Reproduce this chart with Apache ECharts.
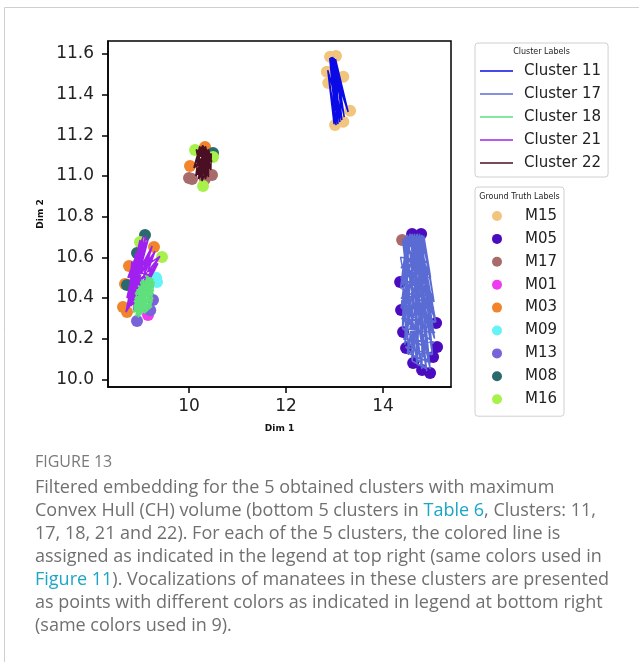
<!DOCTYPE html>
<html>
<head>
<meta charset="utf-8">
<script src="https://cdn.jsdelivr.net/npm/echarts@6/dist/echarts.min.js"></script>
<style>
  html, body { margin: 0; padding: 0; background: #fff; }
  #chart { width: 639px; height: 662px; }
</style>
</head>
<body>
<div id="chart"></div>
<script>
// axis ticks
const xTicks = [10, 12, 14];
const yTicks = [10.0, 10.2, 10.4, 10.6, 10.8, 11.0, 11.2, 11.4, 11.6];

// cluster lines (paths through the embedding points)
const clusterNames = ["Cluster 11", "Cluster 17", "Cluster 18", "Cluster 21", "Cluster 22"];
const clusterColors = ["#0a0ae6", "#5a6cd4", "#5fe07c", "#a020f0", "#4a0f22"];
// drawing order: green hull sits on top of the purple one
const clusterZ = [3, 3, 5, 4, 3];

const cluster11 = [
  [12.90, 11.58], [13.07, 11.255], [12.96, 11.585], [12.99, 11.255], [13.02, 11.575], [13.20, 11.29],
  [12.93, 11.585], [13.11, 11.265], [12.99, 11.58], [13.00, 11.27], [12.86, 11.52], [13.03, 11.25],
  [13.06, 11.50], [13.15, 11.275], [12.90, 11.58], [13.28, 11.315], [12.96, 11.585], [13.00, 11.27],
  [13.02, 11.575], [13.07, 11.255], [12.93, 11.585], [13.20, 11.29], [12.99, 11.58], [12.99, 11.255],
  [12.86, 11.52], [13.15, 11.275], [13.06, 11.50], [13.03, 11.25], [12.90, 11.58], [13.11, 11.265],
  [12.96, 11.585], [13.28, 11.315], [13.02, 11.575], [13.00, 11.27], [12.99, 11.58], [13.07, 11.255]
];
const cluster17 = [
  [14.40, 10.69], [14.90, 10.04], [14.55, 10.715], [14.40, 10.25], [14.70, 10.715], [15.09, 10.28],
  [14.45, 10.70], [14.60, 10.09], [14.84, 10.705], [14.36, 10.45], [14.60, 10.715], [15.02, 10.12],
  [14.75, 10.715], [14.45, 10.17], [14.50, 10.71], [15.05, 10.38], [14.80, 10.71], [14.70, 10.07],
  [14.65, 10.715], [14.97, 10.05], [14.40, 10.69], [15.06, 10.20], [14.70, 10.715], [14.37, 10.35],
  [14.55, 10.715], [14.98, 10.50], [14.84, 10.705], [14.80, 10.05], [14.45, 10.70], [14.52, 10.12],
  [14.75, 10.715], [15.09, 10.28], [14.60, 10.715], [14.90, 10.04], [14.50, 10.71], [14.36, 10.45],
  [14.80, 10.71], [15.02, 10.12], [14.65, 10.715], [14.45, 10.17], [14.84, 10.705], [15.05, 10.38],
  [14.40, 10.69], [14.70, 10.07], [14.70, 10.715], [14.97, 10.05], [14.55, 10.715], [15.06, 10.20],
  [14.75, 10.715], [14.40, 10.25], [14.45, 10.70], [14.98, 10.50], [14.60, 10.715], [14.60, 10.09],
  [14.80, 10.71], [14.80, 10.05],
  [14.36, 10.60], [14.90, 10.58], [14.36, 10.50], [15.00, 10.42], [14.37, 10.40], [15.08, 10.28],
  [14.38, 10.30], [15.05, 10.18], [14.42, 10.20], [14.98, 10.08], [14.50, 10.13], [14.86, 10.65],
  [14.37, 10.55], [14.95, 10.50], [14.36, 10.45], [15.05, 10.35], [14.38, 10.35], [15.07, 10.23],
  [14.40, 10.25], [15.01, 10.12], [14.46, 10.16], [14.90, 10.05], [14.60, 10.09], [14.92, 10.55]
];
const cluster18 = [
  [8.85, 10.33], [9.22, 10.50], [8.95, 10.305], [9.27, 10.44], [8.90, 10.31], [9.14, 10.51],
  [9.00, 10.315], [9.28, 10.48], [8.87, 10.38], [9.26, 10.40], [9.10, 10.33], [9.22, 10.50],
  [8.89, 10.42], [9.28, 10.48], [8.85, 10.33], [9.05, 10.47], [8.95, 10.305], [9.14, 10.51],
  [9.20, 10.35], [9.28, 10.48], [8.90, 10.31], [9.27, 10.44], [9.00, 10.315], [8.96, 10.44],
  [8.87, 10.38], [9.22, 10.50], [9.10, 10.33], [9.24, 10.36], [8.85, 10.33], [9.26, 10.40],
  [8.95, 10.305], [9.05, 10.47], [8.89, 10.42], [9.27, 10.44], [8.90, 10.31], [9.28, 10.48],
  [9.20, 10.35], [9.14, 10.51], [9.00, 10.315], [9.22, 10.50],
  [8.86, 10.36], [9.10, 10.325], [8.88, 10.40], [9.20, 10.35], [8.90, 10.43], [9.25, 10.38],
  [8.95, 10.46], [9.27, 10.42], [9.02, 10.49], [9.28, 10.46], [9.10, 10.51], [9.26, 10.49],
  [8.86, 10.35], [9.23, 10.37], [8.92, 10.44], [9.27, 10.45], [9.00, 10.48], [9.15, 10.34]
];
const cluster21 = [
  [8.70, 10.33], [9.11, 10.705], [8.86, 10.34], [9.30, 10.63], [8.75, 10.35], [8.99, 10.685],
  [8.72, 10.40], [9.40, 10.605], [8.80, 10.36], [9.16, 10.69], [8.78, 10.45], [9.30, 10.54],
  [8.74, 10.50], [9.05, 10.70], [8.70, 10.33], [9.24, 10.655], [8.86, 10.34], [9.36, 10.57],
  [8.75, 10.35], [8.90, 10.62], [8.80, 10.36], [9.11, 10.705], [8.72, 10.40], [9.30, 10.63],
  [8.78, 10.45], [8.99, 10.685], [8.70, 10.33], [9.40, 10.605], [8.74, 10.50], [9.16, 10.69],
  [8.75, 10.35], [8.82, 10.58], [8.86, 10.34], [9.05, 10.70], [8.80, 10.36], [9.30, 10.54],
  [8.72, 10.40], [9.24, 10.655], [8.78, 10.45], [9.36, 10.57]
];
const cluster22 = [
  [10.15, 11.13], [10.34, 10.985], [10.28, 11.15], [10.10, 11.04], [10.40, 11.13], [10.20, 10.985],
  [10.22, 11.145], [10.45, 11.03], [10.34, 11.145], [10.14, 11.00], [10.46, 11.11], [10.27, 10.975],
  [10.15, 11.13], [10.47, 11.07], [10.28, 11.15], [10.40, 10.995], [10.40, 11.13], [10.10, 11.04],
  [10.22, 11.145], [10.34, 10.985], [10.34, 11.145], [10.20, 10.985], [10.46, 11.11], [10.45, 11.03],
  [10.15, 11.13], [10.27, 10.975], [10.28, 11.15], [10.47, 11.07], [10.40, 11.13], [10.14, 11.00],
  [10.22, 11.145], [10.40, 10.995], [10.34, 11.145], [10.34, 10.985], [10.46, 11.11], [10.10, 11.04],
  [10.28, 11.15], [10.27, 10.975], [10.15, 11.13], [10.45, 11.03]
];
const clusterPaths = [cluster11, cluster17, cluster18, cluster21, cluster22];

// ground truth points
const labelNames = ["M15", "M05", "M17", "M01", "M03", "M09", "M13", "M08", "M16"];
const labelColors = ["#f2c57e", "#4b0cbf", "#a86b6b", "#f03af0", "#f0852d", "#66f3f5", "#7a62d8", "#2b6a6c", "#a8f04a"];

const m15 = [[12.907, 11.587], [13.03, 11.59], [12.84, 11.513], [13.18, 11.488], [12.87, 11.457],
  [13.32, 11.321], [13.01, 11.251], [13.18, 11.267]];
const m05 = [[14.598, 10.715], [14.784, 10.715], [14.351, 10.479], [14.371, 10.341], [14.412, 10.233],
  [14.474, 10.154], [14.619, 10.08], [14.804, 10.046], [14.969, 10.031], [15.031, 10.11],
  [15.113, 10.159], [15.093, 10.277]];
const m17 = [[14.392, 10.685], [10.062, 10.985], [10.474, 11.005], [10.0, 10.99], [10.33, 10.985]];
const m01 = [[9.155, 10.316]];
const m03 = [[10.33, 11.143], [10.02, 11.049], [9.278, 10.651], [8.763, 10.557], [8.68, 10.469],
  [8.639, 10.356], [8.722, 10.331]];
const m09 = [[9.34, 10.479], [9.32, 10.5]];
const m13 = [[8.928, 10.287], [9.258, 10.39], [9.2, 10.34]];
const m08 = [[10.495, 11.113], [9.093, 10.71], [8.928, 10.621], [8.722, 10.464]];
const m16 = [[10.124, 11.128], [10.289, 10.951], [10.495, 11.093], [8.99, 10.675], [9.443, 10.601]];
const labelPoints = [m15, m05, m17, m01, m03, m09, m13, m08, m16];

// caption
const captionHead = "FIGURE 13";
const captionLines = [
  "Filtered embedding for the 5 obtained clusters with maximum",
  "Convex Hull (CH) volume (bottom 5 clusters in {l|Table 6}, Clusters: 11,",
  "17, 18, 21 and 22). For each of the 5 clusters, the colored line is",
  "assigned as indicated in the legend at top right (same colors used in",
  "{l|Figure 11}). Vocalizations of manatees in these clusters are presented",
  "as points with different colors as indicated in legend at bottom right",
  "(same colors used in 9)."
];

const font = "DejaVu Sans";
const capFont = "Open Sans";
const chart = echarts.init(document.getElementById("chart"));

let series = [];
labelNames.forEach((n, i) => {
  series.push({
    name: n,
    type: "scatter",
    data: labelPoints[i],
    symbolSize: 12,
    itemStyle: { color: labelColors[i], opacity: 1 },
    z: 2
  });
});
clusterNames.forEach((n, i) => {
  series.push({
    name: n,
    type: "line",
    data: clusterPaths[i],
    symbol: "none",
    lineStyle: { color: clusterColors[i], width: 1.5 },
    itemStyle: { color: clusterColors[i] },
    z: clusterZ[i]
  });
});

let graphics = [
  {
    type: "rect",
    shape: { x: 4.5, y: 7.5, width: 700, height: 700 },
    style: { fill: null, stroke: "#cfcfcf", lineWidth: 1 },
    z: 0
  },
  {
    type: "text",
    style: { text: "Cluster Labels", x: 541.5, y: 52, align: "center", verticalAlign: "middle",
      fontSize: 8, fill: "#222", fontFamily: font },
    z: 100
  },
  {
    type: "text",
    style: { text: "Ground Truth Labels", x: 519.5, y: 197, align: "center", verticalAlign: "middle",
      fontSize: 8, fill: "#222", fontFamily: font },
    z: 100
  },
  {
    type: "text",
    style: { text: captionHead, x: 35, y: 462, verticalAlign: "middle",
      fontSize: 16, fill: "#7a7a7a", fontFamily: capFont },
    z: 100
  }
];
captionLines.forEach((t, i) => {
  graphics.push({
    type: "text",
    style: {
      text: t, x: 35, y: 488 + i * 23, verticalAlign: "middle",
      fontSize: 18, fill: "#707070", fontFamily: capFont,
      rich: { l: { fontSize: 18, fill: "#1ba6c6", fontFamily: capFont } }
    },
    z: 100
  });
});

const option = {
  animation: false,
  backgroundColor: "#fff",
  grid: {
    left: 108, top: 41, width: 343, height: 346,
    show: true, borderColor: "#000", borderWidth: 1.5, backgroundColor: "#fff"
  },
  xAxis: {
    type: "value",
    min: 8.33, max: 15.4,
    name: "Dim 1", nameLocation: "middle", nameGap: 37,
    nameTextStyle: { fontSize: 9, fontWeight: "bold", color: "#111", fontFamily: font },
    axisLine: { onZero: false, lineStyle: { color: "#000", width: 1.5 } },
    axisTick: { customValues: xTicks, length: 6, lineStyle: { color: "#000", width: 1.5 } },
    axisLabel: { customValues: xTicks, fontSize: 17, color: "#222", fontFamily: font, margin: 11 },
    splitLine: { show: false }
  },
  yAxis: {
    type: "value",
    min: 9.962, max: 11.664,
    name: "Dim 2", nameLocation: "middle", nameGap: 56,
    nameTextStyle: { fontSize: 9, fontWeight: "bold", color: "#111", fontFamily: font },
    axisLine: { onZero: false, lineStyle: { color: "#000", width: 1.5 } },
    axisTick: { customValues: yTicks, length: 6, lineStyle: { color: "#000", width: 1.5 } },
    axisLabel: {
      customValues: yTicks, fontSize: 17, color: "#222", fontFamily: font, margin: 14,
      formatter: (v) => v.toFixed(1)
    },
    splitLine: { show: false }
  },
  legend: [
    {
      data: clusterNames,
      orient: "vertical",
      left: 475, top: 43,
      padding: [19, 7, 5, 5],
      icon: "rect",
      itemWidth: 33, itemHeight: 1.5, itemGap: 5,
      borderColor: "#d0d0d0", borderWidth: 1, borderRadius: 3,
      backgroundColor: "#fff",
      textStyle: { fontSize: 15, color: "#222", fontFamily: font, lineHeight: 18, padding: [0, 0, 0, 6] }
    },
    {
      data: labelNames,
      orient: "vertical",
      left: 475, top: 187,
      padding: [20, 7, 8, 17],
      icon: "circle",
      itemWidth: 10, itemHeight: 18, itemGap: 4.9,
      borderColor: "#d0d0d0", borderWidth: 1, borderRadius: 3,
      backgroundColor: "#fff",
      textStyle: { fontSize: 15, color: "#222", fontFamily: font, lineHeight: 18, padding: [0, 0, 0, 18] }
    }
  ],
  graphic: graphics,
  series: series
};

chart.setOption(option);
</script>
</body>
</html>
